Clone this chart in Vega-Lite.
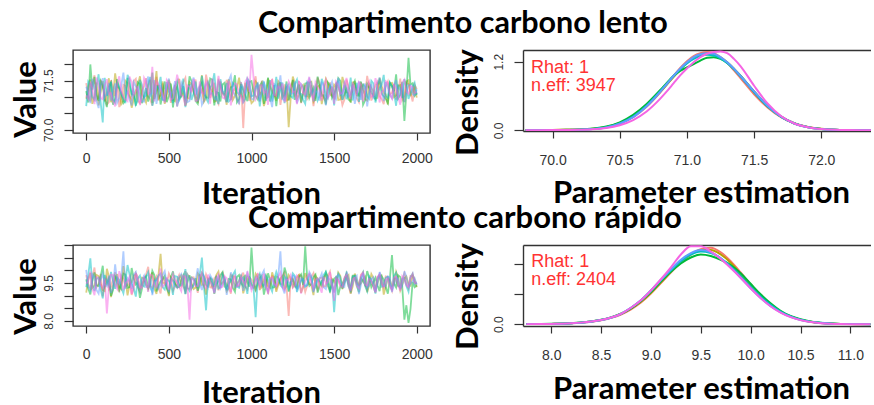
{
  "$schema": "https://vega.github.io/schema/vega-lite/v6.json",
  "padding": {"left": 9, "top": 7, "right": 0, "bottom": 0},
  "background": "white",
  "bounds": "flush",
  "columns": 2,
  "spacing": {"row": 112, "column": 93},
  "config": {
    "view": {"stroke": "#333", "strokeWidth": 1.4},
    "axis": {"grid": false, "labelFont": "Liberation Sans", "labelFontSize": 14, "labelColor": "#333", "tickColor": "#333", "tickWidth": 1.2, "tickSize": 7, "domainColor": "#333", "domainWidth": 1.4, "titleFont": "Lato", "titleFontWeight": "bold", "titleFontSize": 31, "titleColor": "#000", "labelOverlap": false},
    "axisY": {"labelAngle": -90, "labelAlign": "center", "labelBaseline": "bottom", "labelFontSize": 12, "tickSize": 9, "labelPadding": 9},
    "title": {"font": "Lato", "fontSize": 31, "fontWeight": "bold", "color": "#000", "anchor": "start", "frame": "group", "baseline": "alphabetic"}
  },
  "datasets": {
    "tl": [
      {"i":0,"a":71.42,"b":70.95,"c":71.18,"d":70.72,"e":71.31,"f":71.05},
      {"i":25,"a":70.86,"b":71.53,"c":71.99,"d":71.38,"e":70.81,"f":71.47},
      {"i":50,"a":71.66,"b":71.02,"c":71.61,"d":70.91,"e":71.24,"f":70.78},
      {"i":75,"a":70.98,"b":70.74,"c":70.88,"d":71.69,"e":70.66,"f":71.36},
      {"i":100,"a":71.29,"b":71.48,"c":71.35,"d":70.22,"e":71.57,"f":70.93},
      {"i":125,"a":70.77,"b":71.11,"c":70.69,"d":71.04,"e":71.08,"f":71.54},
      {"i":150,"a":71.51,"b":70.84,"c":71.44,"d":71.46,"e":70.89,"f":71.12},
      {"i":175,"a":71.03,"b":71.72,"c":70.96,"d":70.83,"e":71.41,"f":70.71},
      {"i":200,"a":70.69,"b":71.26,"c":71.27,"d":71.29,"e":70.97,"f":71.63},
      {"i":225,"a":71.37,"b":70.89,"c":70.81,"d":70.95,"e":71.74,"f":71.01},
      {"i":250,"a":71.12,"b":71.41,"c":71.58,"d":71.67,"e":71.16,"f":70.87},
      {"i":275,"a":70.92,"b":70.67,"c":71.09,"d":71.08,"e":70.74,"f":71.44},
      {"i":300,"a":71.55,"b":71.19,"c":70.73,"d":70.76,"e":71.32,"f":71.17},
      {"i":325,"a":70.81,"b":71.63,"c":71.39,"d":71.52,"e":71.05,"f":70.75},
      {"i":350,"a":71.33,"b":70.97,"c":71.01,"d":70.99,"e":70.85,"f":71.58},
      {"i":375,"a":71.01,"b":71.34,"c":70.86,"d":71.41,"e":71.62,"f":71.09},
      {"i":400,"a":70.74,"b":70.82,"c":71.74,"d":70.73,"e":71.13,"f":71.92},
      {"i":425,"a":71.61,"b":71.79,"c":71.14,"d":71.33,"e":70.79,"f":71.49},
      {"i":450,"a":71.08,"b":71.06,"c":70.77,"d":71.61,"e":71.37,"f":71.22},
      {"i":475,"a":70.88,"b":70.79,"c":71.47,"d":70.88,"e":70.92,"f":70.82},
      {"i":500,"a":71.46,"b":71.52,"c":71.03,"d":71.16,"e":71.56,"f":71.39},
      {"i":525,"a":71.19,"b":70.91,"c":70.68,"d":70.81,"e":71.18,"f":70.96},
      {"i":550,"a":70.71,"b":71.37,"c":71.31,"d":71.48,"e":70.71,"f":71.68},
      {"i":575,"a":71.27,"b":71.02,"c":71.05,"d":71.03,"e":71.44,"f":71.04},
      {"i":600,"a":71.58,"b":70.73,"c":70.92,"d":70.69,"e":71.02,"f":70.73},
      {"i":625,"a":70.95,"b":71.45,"c":71.63,"d":71.39,"e":70.88,"f":71.31},
      {"i":650,"a":71.36,"b":71.14,"c":71.18,"d":71.11,"e":71.59,"f":71.55},
      {"i":675,"a":70.83,"b":70.87,"c":70.79,"d":70.87,"e":71.23,"f":70.89},
      {"i":700,"a":71.22,"b":71.66,"c":71.43,"d":71.64,"e":70.76,"f":71.13},
      {"i":725,"a":71.68,"b":70.96,"c":70.99,"d":70.96,"e":71.36,"f":71.46},
      {"i":750,"a":70.97,"b":71.28,"c":71.56,"d":71.27,"e":71.09,"f":70.79},
      {"i":775,"a":71.43,"b":70.85,"c":70.74,"d":71.72,"e":70.95,"f":71.27},
      {"i":800,"a":70.79,"b":71.49,"c":71.12,"d":70.78,"e":71.47,"f":71.64},
      {"i":825,"a":71.14,"b":71.11,"c":71.38,"d":71.19,"e":71.14,"f":70.98},
      {"i":850,"a":71.52,"b":70.76,"c":70.85,"d":71.43,"e":70.83,"f":71.19},
      {"i":875,"a":70.91,"b":71.33,"c":71.29,"d":70.92,"e":71.65,"f":70.74},
      {"i":900,"a":71.25,"b":71.04,"c":71.66,"d":71.35,"e":71.06,"f":71.42},
      {"i":925,"a":70.82,"b":71.59,"c":70.94,"d":71.07,"e":70.78,"f":71.06},
      {"i":950,"a":70.05,"b":70.93,"c":71.21,"d":70.84,"e":71.29,"f":70.81},
      {"i":975,"a":71.49,"b":71.24,"c":70.87,"d":71.56,"e":71.52,"f":71.57},
      {"i":1000,"a":71.07,"b":70.81,"c":71.48,"d":71.02,"e":70.94,"f":72.28},
      {"i":1025,"a":71.63,"b":71.47,"c":71.03,"d":71.29,"e":71.21,"f":70.92},
      {"i":1050,"a":70.86,"b":71.08,"c":71.34,"d":70.71,"e":70.87,"f":71.35},
      {"i":1075,"a":71.31,"b":70.72,"c":70.79,"d":71.47,"e":71.43,"f":71.11},
      {"i":1100,"a":70.99,"b":71.56,"c":71.59,"d":71.13,"e":71.04,"f":70.76},
      {"i":1125,"a":71.55,"b":71.17,"c":71.11,"d":70.86,"e":70.69,"f":71.51},
      {"i":1150,"a":71.04,"b":70.88,"c":70.72,"d":71.61,"e":71.33,"f":71.03},
      {"i":1175,"a":70.76,"b":71.39,"c":71.45,"d":71.24,"e":71.66,"f":71.26},
      {"i":1200,"a":71.38,"b":71.01,"c":71.07,"d":70.81,"e":70.91,"f":70.84},
      {"i":1225,"a":70.93,"b":70.08,"c":70.89,"d":71.37,"e":71.26,"f":71.47},
      {"i":1250,"a":71.47,"b":71.62,"c":71.52,"d":70.97,"e":71.11,"f":71.15},
      {"i":1275,"a":71.17,"b":70.94,"c":71.16,"d":71.53,"e":70.81,"f":70.78},
      {"i":1300,"a":70.81,"b":71.29,"c":70.83,"d":71.09,"e":71.39,"f":71.38},
      {"i":1325,"a":71.36,"b":71.03,"c":71.41,"d":70.79,"e":70.99,"f":71.08},
      {"i":1350,"a":71.02,"b":71.44,"c":70.97,"d":71.42,"e":71.54,"f":71.61},
      {"i":1375,"a":70.72,"b":70.86,"c":71.28,"d":71.18,"e":70.86,"f":70.94},
      {"i":1400,"a":71.59,"b":71.31,"c":71.62,"d":70.89,"e":71.18,"f":71.29},
      {"i":1425,"a":71.11,"b":70.78,"c":71.04,"d":71.55,"e":71.43,"f":70.89},
      {"i":1450,"a":70.87,"b":71.55,"c":70.77,"d":71.04,"e":70.74,"f":71.52},
      {"i":1475,"a":71.44,"b":71.09,"c":71.35,"d":71.31,"e":71.31,"f":71.07},
      {"i":1500,"a":70.96,"b":71.37,"c":71.09,"d":70.74,"e":71.03,"f":70.79},
      {"i":1525,"a":71.28,"b":70.91,"c":71.57,"d":71.46,"e":71.58,"f":71.36},
      {"i":1550,"a":70.75,"b":71.61,"c":70.91,"d":71.13,"e":70.92,"f":71.12},
      {"i":1575,"a":71.53,"b":71.14,"c":71.23,"d":70.93,"e":71.29,"f":71.58},
      {"i":1600,"a":71.09,"b":70.83,"c":70.86,"d":71.59,"e":71.07,"f":70.93},
      {"i":1625,"a":71.41,"b":71.46,"c":71.49,"d":71.22,"e":70.79,"f":71.24},
      {"i":1650,"a":70.84,"b":71.03,"c":71.06,"d":70.85,"e":71.47,"f":71.45},
      {"i":1675,"a":71.21,"b":71.37,"c":70.76,"d":71.38,"e":71.15,"f":70.86},
      {"i":1700,"a":71.64,"b":70.89,"c":71.39,"d":71.01,"e":70.71,"f":71.32},
      {"i":1725,"a":70.89,"b":71.27,"c":71.14,"d":71.49,"e":71.38,"f":71.01},
      {"i":1750,"a":71.35,"b":70.95,"c":70.93,"d":70.83,"e":71.02,"f":71.57},
      {"i":1775,"a":71.02,"b":71.58,"c":71.51,"d":71.28,"e":71.59,"f":70.83},
      {"i":1800,"a":70.78,"b":71.12,"c":71.02,"d":71.67,"e":70.87,"f":71.19},
      {"i":1825,"a":71.47,"b":70.77,"c":70.81,"d":70.97,"e":71.27,"f":71.43},
      {"i":1850,"a":71.13,"b":71.43,"c":71.33,"d":71.32,"e":70.96,"f":70.95},
      {"i":1875,"a":70.92,"b":71.05,"c":71.69,"d":70.73,"e":71.51,"f":71.27},
      {"i":1900,"a":71.56,"b":71.36,"c":71.06,"d":71.19,"e":71.12,"f":70.76},
      {"i":1925,"a":71.04,"b":70.84,"c":70.27,"d":71.54,"e":70.84,"f":71.53},
      {"i":1950,"a":71.39,"b":71.51,"c":72.19,"d":70.94,"e":71.36,"f":71.09},
      {"i":1975,"a":70.86,"b":71.19,"c":71.42,"d":71.29,"e":71.08,"f":71.31},
      {"i":2000,"a":71.24,"b":70.98,"c":71.13,"d":71.06,"e":71.23,"f":71.14},
      {"i":12,"a":71.05,"b":71.28,"c":70.83,"d":71.47,"e":71.12,"f":70.94},
      {"i":37,"a":71.38,"b":70.79,"c":71.22,"d":71.01,"e":71.55,"f":71.26},
      {"i":62,"a":70.91,"b":71.44,"c":71.07,"d":71.33,"e":70.88,"f":71.59},
      {"i":87,"a":71.52,"b":71.13,"c":71.49,"d":70.85,"e":71.27,"f":70.97},
      {"i":112,"a":71.17,"b":70.86,"c":70.92,"d":71.58,"e":70.99,"f":71.36},
      {"i":137,"a":70.84,"b":71.57,"c":71.31,"d":71.19,"e":71.43,"f":71.08},
      {"i":162,"a":71.29,"b":71.02,"c":70.76,"d":70.94,"e":71.16,"f":70.87},
      {"i":187,"a":71.46,"b":71.31,"c":71.54,"d":71.42,"e":70.82,"f":71.41},
      {"i":212,"a":70.96,"b":70.78,"c":71.12,"d":71.09,"e":71.35,"f":71.18},
      {"i":237,"a":71.34,"b":71.49,"c":70.89,"d":70.81,"e":71.08,"f":70.92},
      {"i":262,"a":71.01,"b":71.11,"c":71.37,"d":71.53,"e":70.93,"f":71.62},
      {"i":287,"a":71.48,"b":70.92,"c":71.06,"d":71.21,"e":71.46,"f":71.05},
      {"i":312,"a":70.87,"b":71.36,"c":71.45,"d":70.88,"e":71.21,"f":71.33},
      {"i":337,"a":71.19,"b":71.09,"c":70.81,"d":71.36,"e":70.86,"f":70.99},
      {"i":362,"a":71.57,"b":70.83,"c":71.27,"d":71.04,"e":71.39,"f":71.45},
      {"i":387,"a":70.93,"b":71.52,"c":71.16,"d":71.61,"e":71.02,"f":71.13},
      {"i":412,"a":71.24,"b":71.18,"c":70.94,"d":70.97,"e":71.51,"f":70.86},
      {"i":437,"a":70.89,"b":70.96,"c":71.36,"d":71.27,"e":71.17,"f":71.38},
      {"i":462,"a":71.41,"b":71.47,"c":71.09,"d":70.92,"e":70.91,"f":71.07},
      {"i":487,"a":71.12,"b":71.04,"c":70.84,"d":71.45,"e":71.33,"f":71.51},
      {"i":512,"a":70.82,"b":71.32,"c":71.41,"d":71.07,"e":71.04,"f":70.91},
      {"i":537,"a":71.35,"b":70.87,"c":71.19,"d":71.34,"e":71.48,"f":71.24},
      {"i":562,"a":71.06,"b":71.55,"c":70.95,"d":70.89,"e":70.97,"f":71.43},
      {"i":587,"a":71.44,"b":71.12,"c":71.33,"d":71.56,"e":71.29,"f":71.02},
      {"i":612,"a":70.97,"b":70.93,"c":71.02,"d":71.13,"e":70.84,"f":71.35},
      {"i":637,"a":71.26,"b":71.38,"c":71.48,"d":70.91,"e":71.41,"f":71.14},
      {"i":662,"a":71.53,"b":71.01,"c":70.88,"d":71.47,"e":71.07,"f":70.88},
      {"i":687,"a":71.08,"b":71.29,"c":71.29,"d":71.05,"e":71.34,"f":71.47},
      {"i":712,"a":70.86,"b":70.85,"c":71.11,"d":71.31,"e":70.89,"f":71.09},
      {"i":737,"a":71.39,"b":71.43,"c":70.97,"d":70.84,"e":71.46,"f":71.31},
      {"i":762,"a":71.14,"b":71.16,"c":71.52,"d":71.38,"e":71.12,"f":71.56},
      {"i":787,"a":70.92,"b":70.89,"c":71.15,"d":71.02,"e":70.91,"f":71.03},
      {"i":812,"a":71.47,"b":71.35,"c":70.86,"d":71.54,"e":71.37,"f":71.34},
      {"i":837,"a":71.03,"b":71.08,"c":71.43,"d":71.09,"e":71.03,"f":70.95},
      {"i":862,"a":71.31,"b":71.54,"c":71.09,"d":70.86,"e":71.49,"f":71.48},
      {"i":887,"a":71.18,"b":70.91,"c":71.33,"d":71.42,"e":71.16,"f":71.11},
      {"i":912,"a":70.94,"b":71.27,"c":70.84,"d":71.15,"e":70.95,"f":71.38},
      {"i":937,"a":71.45,"b":71.05,"c":71.39,"d":71.33,"e":71.41,"f":71.04},
      {"i":962,"a":71.21,"b":71.43,"c":71.06,"d":70.93,"e":71.08,"f":71.46},
      {"i":987,"a":70.88,"b":71.11,"c":71.45,"d":71.48,"e":71.33,"f":71.15},
      {"i":1012,"a":71.36,"b":70.87,"c":71.17,"d":71.04,"e":70.92,"f":71.61},
      {"i":1037,"a":71.11,"b":71.39,"c":70.93,"d":71.39,"e":71.44,"f":71.02},
      {"i":1062,"a":71.49,"b":71.15,"c":71.44,"d":71.18,"e":71.15,"f":71.36},
      {"i":1087,"a":70.95,"b":70.94,"c":71.12,"d":70.88,"e":71.28,"f":71.19},
      {"i":1112,"a":71.27,"b":71.33,"c":70.86,"d":71.51,"e":70.97,"f":71.43},
      {"i":1137,"a":71.02,"b":71.06,"c":71.36,"d":71.13,"e":71.39,"f":71.07},
      {"i":1162,"a":71.42,"b":71.48,"c":71.21,"d":70.95,"e":71.18,"f":71.32},
      {"i":1187,"a":71.13,"b":71.17,"c":70.98,"d":71.44,"e":70.93,"f":71.41},
      {"i":1212,"a":70.89,"b":71.32,"c":71.47,"d":71.27,"e":71.36,"f":71.05},
      {"i":1237,"a":71.33,"b":70.96,"c":71.14,"d":71.02,"e":71.09,"f":71.35},
      {"i":1262,"a":71.06,"b":71.41,"c":70.91,"d":71.39,"e":71.47,"f":71.17},
      {"i":1287,"a":71.48,"b":71.07,"c":71.38,"d":71.12,"e":70.98,"f":71.46},
      {"i":1312,"a":71.15,"b":71.36,"c":71.09,"d":70.92,"e":71.31,"f":71.12},
      {"i":1337,"a":70.93,"b":71.02,"c":71.42,"d":71.46,"e":71.06,"f":71.39},
      {"i":1362,"a":71.37,"b":71.46,"c":71.13,"d":71.08,"e":71.42,"f":71.05},
      {"i":1387,"a":71.09,"b":70.99,"c":70.88,"d":71.33,"e":71.14,"f":71.44},
      {"i":1412,"a":71.43,"b":71.35,"c":71.31,"d":71.03,"e":70.89,"f":71.21},
      {"i":1437,"a":70.98,"b":71.09,"c":71.05,"d":71.37,"e":71.35,"f":71.37},
      {"i":1462,"a":71.26,"b":71.42,"c":71.44,"d":70.96,"e":71.19,"f":70.98},
      {"i":1487,"a":71.05,"b":71.03,"c":70.97,"d":71.29,"e":71.46,"f":71.31},
      {"i":1512,"a":71.39,"b":71.29,"c":71.26,"d":71.41,"e":70.94,"f":71.47},
      {"i":1537,"a":71.12,"b":70.92,"c":71.49,"d":71.06,"e":71.25,"f":71.09},
      {"i":1562,"a":70.91,"b":71.38,"c":71.08,"d":71.35,"e":71.44,"f":71.36},
      {"i":1587,"a":71.32,"b":71.11,"c":70.92,"d":71.14,"e":71.01,"f":71.17},
      {"i":1612,"a":71.18,"b":71.44,"c":71.34,"d":70.89,"e":71.37,"f":71.44},
      {"i":1637,"a":70.95,"b":71.05,"c":71.12,"d":71.43,"e":71.12,"f":71.06},
      {"i":1662,"a":71.44,"b":71.31,"c":71.47,"d":71.15,"e":70.91,"f":71.38},
      {"i":1687,"a":71.07,"b":70.93,"c":70.89,"d":71.32,"e":71.41,"f":71.13},
      {"i":1712,"a":71.29,"b":71.39,"c":71.28,"d":70.94,"e":71.16,"f":71.46},
      {"i":1737,"a":71.11,"b":71.16,"c":71.03,"d":71.41,"e":70.96,"f":71.04},
      {"i":1762,"a":71.46,"b":70.97,"c":71.37,"d":71.09,"e":71.38,"f":71.35},
      {"i":1787,"a":70.94,"b":71.34,"c":71.11,"d":71.36,"e":71.22,"f":71.15},
      {"i":1812,"a":71.31,"b":71.08,"c":70.94,"d":71.02,"e":71.45,"f":71.48},
      {"i":1837,"a":71.08,"b":71.41,"c":71.43,"d":71.44,"e":71.06,"f":71.08},
      {"i":1862,"a":71.39,"b":70.99,"c":71.17,"d":71.13,"e":71.34,"f":71.37},
      {"i":1887,"a":71.16,"b":71.33,"c":70.95,"d":71.38,"e":70.97,"f":71.02},
      {"i":1912,"a":70.91,"b":71.14,"c":71.46,"d":70.97,"e":71.41,"f":71.44},
      {"i":1937,"a":71.43,"b":71.47,"c":71.12,"d":71.31,"e":71.13,"f":71.16},
      {"i":1962,"a":71.14,"b":71.02,"c":71.38,"d":71.12,"e":71.36,"f":71.33},
      {"i":1987,"a":71.37,"b":71.29,"c":71.04,"d":71.43,"e":71.05,"f":71.12}
    ],
    "tr": [
      {"i":0,"a":9.81,"b":9.12,"c":9.64,"d":9.33,"e":10.02,"f":9.47},
      {"i":25,"a":9.28,"b":9.89,"c":9.05,"d":10.47,"e":9.21,"f":9.95},
      {"i":50,"a":10.11,"b":9.41,"c":9.92,"d":9.18,"e":9.73,"f":9.02},
      {"i":75,"a":9.46,"b":9.77,"c":9.38,"d":9.71,"e":9.08,"f":9.68},
      {"i":100,"a":8.97,"b":9.23,"c":10.18,"d":8.89,"e":9.86,"f":9.29},
      {"i":125,"a":9.73,"b":10.06,"c":9.51,"d":9.55,"e":9.37,"f":8.3},
      {"i":150,"a":9.35,"b":8.94,"c":8.99,"d":9.94,"e":9.11,"f":9.83},
      {"i":175,"a":9.92,"b":9.62,"c":9.76,"d":9.27,"e":10.24,"f":9.41},
      {"i":200,"a":9.14,"b":9.35,"c":9.22,"d":9.63,"e":9.47,"f":9.97},
      {"i":225,"a":9.66,"b":10.17,"c":9.87,"d":9.09,"e":10.75,"f":9.22},
      {"i":250,"a":9.41,"b":9.01,"c":9.31,"d":10.21,"e":9.69,"f":9.58},
      {"i":275,"a":9.03,"b":9.54,"c":10.09,"d":9.48,"e":9.26,"f":9.07},
      {"i":300,"a":9.88,"b":9.84,"c":9.44,"d":8.96,"e":9.93,"f":9.88},
      {"i":325,"a":9.22,"b":9.16,"c":8.91,"d":9.79,"e":9.18,"f":9.34},
      {"i":350,"a":9.59,"b":9.68,"c":9.69,"d":9.36,"e":9.79,"f":9.71},
      {"i":375,"a":10.14,"b":9.29,"c":9.26,"d":9.92,"e":9.35,"f":9.15},
      {"i":400,"a":9.31,"b":9.92,"c":9.98,"d":9.15,"e":9.02,"f":9.79},
      {"i":425,"a":9.76,"b":9.07,"c":9.17,"d":9.61,"e":9.64,"f":9.33},
      {"i":450,"a":9.09,"b":10.65,"c":9.57,"d":9.87,"e":9.42,"f":10.07},
      {"i":475,"a":9.54,"b":9.48,"c":9.78,"d":9.24,"e":9.97,"f":9.44},
      {"i":500,"a":9.87,"b":8.98,"c":9.12,"d":9.58,"e":9.14,"f":9.23},
      {"i":525,"a":9.19,"b":9.61,"c":9.96,"d":9.03,"e":9.58,"f":9.86},
      {"i":550,"a":9.62,"b":9.33,"c":9.34,"d":9.75,"e":9.31,"f":9.52},
      {"i":575,"a":9.38,"b":9.79,"c":9.61,"d":9.42,"e":9.85,"f":9.18},
      {"i":600,"a":9.97,"b":9.19,"c":9.06,"d":10.05,"e":9.07,"f":9.74},
      {"i":625,"a":9.27,"b":9.71,"c":9.81,"d":9.19,"e":9.66,"f":8.05},
      {"i":650,"a":9.72,"b":9.26,"c":9.44,"d":9.64,"e":9.39,"f":9.63},
      {"i":675,"a":9.11,"b":9.88,"c":9.19,"d":9.33,"e":10.08,"f":9.37},
      {"i":700,"a":9.58,"b":9.42,"c":9.89,"d":10.5,"e":9.22,"f":9.91},
      {"i":725,"a":9.84,"b":9.04,"c":9.42,"d":8.42,"e":9.56,"f":9.26},
      {"i":750,"a":9.33,"b":9.67,"c":9.71,"d":9.68,"e":9.81,"f":9.55},
      {"i":775,"a":9.69,"b":9.37,"c":9.07,"d":9.44,"e":9.12,"f":9.09},
      {"i":800,"a":9.21,"b":9.95,"c":9.58,"d":9.28,"e":9.74,"f":9.82},
      {"i":825,"a":9.94,"b":9.51,"c":9.93,"d":9.84,"e":9.45,"f":9.35},
      {"i":850,"a":9.43,"b":9.17,"c":9.27,"d":9.21,"e":9.03,"f":9.69},
      {"i":875,"a":9.08,"b":9.82,"c":9.64,"d":9.58,"e":9.92,"f":9.14},
      {"i":900,"a":9.74,"b":9.31,"c":9.15,"d":9.97,"e":9.33,"f":9.77},
      {"i":925,"a":9.36,"b":9.58,"c":9.82,"d":9.31,"e":9.61,"f":9.42},
      {"i":950,"a":9.91,"b":9.09,"c":9.37,"d":9.72,"e":9.19,"f":9.58},
      {"i":975,"a":9.25,"b":9.74,"c":9.55,"d":9.07,"e":9.88,"f":9.96},
      {"i":1000,"a":9.64,"b":9.43,"c":10.9,"d":9.49,"e":9.28,"f":9.21},
      {"i":1025,"a":9.17,"b":9.86,"c":9.23,"d":8.15,"e":9.72,"f":9.65},
      {"i":1050,"a":9.83,"b":9.22,"c":9.69,"d":9.86,"e":9.41,"f":9.33},
      {"i":1075,"a":9.42,"b":9.63,"c":9.04,"d":9.37,"e":9.99,"f":9.87},
      {"i":1100,"a":9.06,"b":9.38,"c":9.88,"d":9.62,"e":9.15,"f":9.15},
      {"i":1125,"a":9.77,"b":9.92,"c":9.31,"d":9.16,"e":9.67,"f":9.73},
      {"i":1150,"a":9.29,"b":9.15,"c":9.76,"d":9.94,"e":9.36,"f":9.39},
      {"i":1175,"a":9.61,"b":9.69,"c":9.47,"d":9.41,"e":10.75,"f":9.91},
      {"i":1200,"a":9.92,"b":9.28,"c":10.11,"d":9.75,"e":9.09,"f":9.22},
      {"i":1225,"a":8.2,"b":9.81,"c":9.16,"d":9.27,"e":9.53,"f":9.64},
      {"i":1250,"a":9.68,"b":9.34,"c":9.64,"d":9.88,"e":9.79,"f":9.31},
      {"i":1275,"a":9.35,"b":9.73,"c":9.29,"d":9.14,"e":9.24,"f":9.79},
      {"i":1300,"a":9.79,"b":9.11,"c":9.84,"d":9.59,"e":9.68,"f":9.08},
      {"i":1325,"a":9.14,"b":9.89,"c":10.95,"d":9.35,"e":9.37,"f":9.54},
      {"i":1350,"a":9.57,"b":9.47,"c":9.38,"d":9.82,"e":9.93,"f":9.86},
      {"i":1375,"a":9.89,"b":9.02,"c":9.73,"d":9.21,"e":9.14,"f":9.27},
      {"i":1400,"a":9.23,"b":9.65,"c":9.12,"d":9.67,"e":9.57,"f":9.68},
      {"i":1425,"a":9.71,"b":9.36,"c":9.58,"d":9.43,"e":9.87,"f":9.12},
      {"i":1450,"a":9.38,"b":9.84,"c":9.93,"d":9.94,"e":9.26,"f":9.47},
      {"i":1475,"a":9.95,"b":9.19,"c":9.21,"d":9.13,"e":9.63,"f":9.93},
      {"i":1500,"a":9.16,"b":9.58,"c":9.67,"d":8.35,"e":9.11,"f":8.79},
      {"i":1525,"a":9.63,"b":9.91,"c":9.02,"d":9.86,"e":9.82,"f":9.62},
      {"i":1550,"a":9.31,"b":9.26,"c":9.47,"d":9.28,"e":9.41,"f":9.35},
      {"i":1575,"a":9.85,"b":9.72,"c":9.88,"d":9.69,"e":9.95,"f":9.81},
      {"i":1600,"a":9.09,"b":9.08,"c":9.26,"d":9.19,"e":9.23,"f":9.18},
      {"i":1625,"a":9.66,"b":9.87,"c":9.79,"d":9.78,"e":9.71,"f":9.71},
      {"i":1650,"a":9.42,"b":9.41,"c":9.13,"d":9.36,"e":9.06,"f":9.29},
      {"i":1675,"a":9.93,"b":9.63,"c":9.58,"d":9.91,"e":9.88,"f":9.89},
      {"i":1700,"a":9.24,"b":9.13,"c":9.97,"d":9.17,"e":9.32,"f":9.41},
      {"i":1725,"a":9.57,"b":9.85,"c":9.34,"d":9.63,"e":9.65,"f":9.58},
      {"i":1750,"a":9.12,"b":9.28,"c":9.71,"d":9.08,"e":9.17,"f":9.13},
      {"i":1775,"a":9.81,"b":9.76,"c":9.18,"d":9.84,"e":9.93,"f":9.84},
      {"i":1800,"a":9.35,"b":9.04,"c":9.63,"d":9.39,"e":9.38,"f":9.32},
      {"i":1825,"a":9.74,"b":9.69,"c":9.08,"d":9.74,"e":9.76,"f":9.69},
      {"i":1850,"a":9.19,"b":9.38,"c":10.6,"d":9.22,"e":9.14,"f":9.23},
      {"i":1875,"a":9.66,"b":9.94,"c":9.32,"d":9.91,"e":9.71,"f":9.75},
      {"i":1900,"a":9.41,"b":9.21,"c":9.74,"d":9.31,"e":9.29,"f":9.18},
      {"i":1925,"a":9.88,"b":9.67,"c":8.05,"d":9.69,"e":9.96,"f":9.63},
      {"i":1950,"a":9.28,"b":9.45,"c":7.92,"d":9.16,"e":9.36,"f":9.34},
      {"i":1975,"a":9.79,"b":9.82,"c":9.54,"d":9.87,"e":9.58,"f":9.86},
      {"i":2000,"a":9.47,"b":9.33,"c":9.41,"d":9.52,"e":9.43,"f":9.53},
      {"i":12,"a":9.45,"b":9.63,"c":9.28,"d":9.79,"e":9.36,"f":9.58},
      {"i":37,"a":9.71,"b":9.31,"c":9.57,"d":9.42,"e":9.84,"f":9.29},
      {"i":62,"a":9.33,"b":9.82,"c":9.41,"d":9.66,"e":9.22,"f":9.74},
      {"i":87,"a":9.86,"b":9.47,"c":9.73,"d":9.25,"e":9.61,"f":9.43},
      {"i":112,"a":9.52,"b":9.18,"c":9.36,"d":9.81,"e":9.45,"f":9.67},
      {"i":137,"a":9.24,"b":9.76,"c":9.68,"d":9.38,"e":9.79,"f":9.35},
      {"i":162,"a":9.67,"b":9.39,"c":9.21,"d":9.59,"e":9.31,"f":9.81},
      {"i":187,"a":9.41,"b":9.85,"c":9.62,"d":9.72,"e":9.56,"f":9.27},
      {"i":212,"a":9.79,"b":9.26,"c":9.47,"d":9.31,"e":9.69,"f":9.62},
      {"i":237,"a":9.36,"b":9.64,"c":9.83,"d":9.55,"e":9.27,"f":9.48},
      {"i":262,"a":9.62,"b":9.43,"c":9.34,"d":9.84,"e":9.58,"f":9.76},
      {"i":287,"a":9.29,"b":9.78,"c":9.69,"d":9.29,"e":9.82,"f":9.39},
      {"i":312,"a":9.74,"b":9.35,"c":9.52,"d":9.67,"e":9.41,"f":9.65},
      {"i":337,"a":9.48,"b":9.71,"c":9.26,"d":9.42,"e":9.63,"f":9.31},
      {"i":362,"a":9.83,"b":9.42,"c":9.77,"d":9.73,"e":9.34,"f":9.57},
      {"i":387,"a":9.37,"b":9.66,"c":9.45,"d":9.33,"e":9.72,"f":9.84},
      {"i":412,"a":9.61,"b":9.28,"c":9.81,"d":9.58,"e":9.49,"f":9.42},
      {"i":437,"a":9.32,"b":9.81,"c":9.38,"d":9.79,"e":9.28,"f":9.69},
      {"i":462,"a":9.77,"b":9.51,"c":9.64,"d":9.34,"e":9.81,"f":9.36},
      {"i":487,"a":9.44,"b":9.34,"c":9.29,"d":9.65,"e":9.43,"f":9.73},
      {"i":512,"a":9.69,"b":9.73,"c":9.72,"d":9.46,"e":9.66,"f":9.48},
      {"i":537,"a":9.35,"b":9.45,"c":9.48,"d":9.77,"e":9.38,"f":9.61},
      {"i":562,"a":9.81,"b":9.69,"c":9.33,"d":9.36,"e":9.74,"f":9.34},
      {"i":587,"a":9.51,"b":9.38,"c":9.79,"d":9.61,"e":9.45,"f":9.79},
      {"i":612,"a":9.28,"b":9.84,"c":9.51,"d":9.32,"e":9.83,"f":9.45},
      {"i":637,"a":9.73,"b":9.49,"c":9.28,"d":9.71,"e":9.31,"f":9.67},
      {"i":662,"a":9.46,"b":9.32,"c":9.69,"d":9.45,"e":9.62,"f":9.38},
      {"i":687,"a":9.84,"b":9.76,"c":9.42,"d":9.83,"e":9.47,"f":9.72},
      {"i":712,"a":9.39,"b":9.44,"c":9.75,"d":9.39,"e":9.78,"f":9.49},
      {"i":737,"a":9.62,"b":9.68,"c":9.36,"d":9.64,"e":9.34,"f":9.83},
      {"i":762,"a":9.31,"b":9.36,"c":9.63,"d":9.41,"e":9.66,"f":9.41},
      {"i":787,"a":9.76,"b":9.81,"c":9.44,"d":9.78,"e":9.52,"f":9.64},
      {"i":812,"a":9.49,"b":9.43,"c":9.81,"d":9.33,"e":9.29,"f":9.32},
      {"i":837,"a":9.65,"b":9.62,"c":9.37,"d":9.68,"e":9.73,"f":9.77},
      {"i":862,"a":9.34,"b":9.29,"c":9.66,"d":9.47,"e":9.41,"f":9.48},
      {"i":887,"a":9.79,"b":9.74,"c":9.31,"d":9.81,"e":9.64,"f":9.59},
      {"i":912,"a":9.42,"b":9.48,"c":9.74,"d":9.36,"e":9.37,"f":9.37},
      {"i":937,"a":9.68,"b":9.83,"c":9.49,"d":9.62,"e":9.79,"f":9.71},
      {"i":962,"a":9.38,"b":9.39,"c":9.82,"d":9.45,"e":9.46,"f":9.44},
      {"i":987,"a":9.72,"b":9.61,"c":9.35,"d":9.76,"e":9.67,"f":9.66},
      {"i":1012,"a":9.47,"b":9.33,"c":9.67,"d":9.31,"e":9.35,"f":9.39},
      {"i":1037,"a":9.85,"b":9.72,"c":9.46,"d":9.65,"e":9.59,"f":9.82},
      {"i":1062,"a":9.33,"b":9.45,"c":9.78,"d":9.48,"e":9.82,"f":9.51},
      {"i":1087,"a":9.66,"b":9.79,"c":9.39,"d":9.79,"e":9.36,"f":9.34},
      {"i":1112,"a":9.41,"b":9.31,"c":9.62,"d":9.36,"e":9.61,"f":9.68},
      {"i":1137,"a":9.73,"b":9.65,"c":9.33,"d":9.64,"e":9.43,"f":9.47},
      {"i":1162,"a":9.46,"b":9.42,"c":9.71,"d":9.71,"e":9.76,"f":9.75},
      {"i":1187,"a":9.78,"b":9.77,"c":9.44,"d":9.33,"e":9.32,"f":9.36},
      {"i":1212,"a":9.35,"b":9.38,"c":9.84,"d":9.62,"e":9.68,"f":9.63},
      {"i":1237,"a":9.64,"b":9.69,"c":9.51,"d":9.44,"e":9.45,"f":9.81},
      {"i":1262,"a":9.43,"b":9.47,"c":9.36,"d":9.78,"e":9.74,"f":9.42},
      {"i":1287,"a":9.81,"b":9.82,"c":9.73,"d":9.37,"e":9.38,"f":9.69},
      {"i":1312,"a":9.52,"b":9.35,"c":9.42,"d":9.65,"e":9.63,"f":9.38},
      {"i":1337,"a":9.39,"b":9.64,"c":9.68,"d":9.43,"e":9.41,"f":9.76},
      {"i":1362,"a":9.74,"b":9.41,"c":9.47,"d":9.71,"e":9.78,"f":9.46},
      {"i":1387,"a":9.44,"b":9.79,"c":9.83,"d":9.34,"e":9.49,"f":9.63},
      {"i":1412,"a":9.69,"b":9.52,"c":9.38,"d":9.59,"e":9.66,"f":9.35},
      {"i":1437,"a":9.36,"b":9.73,"c":9.61,"d":9.82,"e":9.33,"f":9.74},
      {"i":1462,"a":9.77,"b":9.38,"c":9.76,"d":9.48,"e":9.72,"f":9.52},
      {"i":1487,"a":9.48,"b":9.66,"c":9.41,"d":9.66,"e":9.44,"f":9.41},
      {"i":1512,"a":9.71,"b":9.44,"c":9.72,"d":9.39,"e":9.76,"f":9.69},
      {"i":1537,"a":9.42,"b":9.78,"c":9.35,"d":9.73,"e":9.51,"f":9.36},
      {"i":1562,"a":9.66,"b":9.49,"c":9.64,"d":9.52,"e":9.35,"f":9.72},
      {"i":1587,"a":9.37,"b":9.81,"c":9.47,"d":9.37,"e":9.69,"f":9.47},
      {"i":1612,"a":9.74,"b":9.36,"c":9.79,"d":9.74,"e":9.47,"f":9.65},
      {"i":1637,"a":9.51,"b":9.63,"c":9.38,"d":9.46,"e":9.79,"f":9.38},
      {"i":1662,"a":9.82,"b":9.48,"c":9.69,"d":9.69,"e":9.42,"f":9.79},
      {"i":1687,"a":9.41,"b":9.74,"c":9.44,"d":9.38,"e":9.64,"f":9.44},
      {"i":1712,"a":9.67,"b":9.41,"c":9.71,"d":9.76,"e":9.39,"f":9.66},
      {"i":1737,"a":9.34,"b":9.69,"c":9.52,"d":9.44,"e":9.73,"f":9.39},
      {"i":1762,"a":9.73,"b":9.47,"c":9.41,"d":9.66,"e":9.45,"f":9.74},
      {"i":1787,"a":9.48,"b":9.79,"c":9.77,"d":9.35,"e":9.68,"f":9.45},
      {"i":1812,"a":9.76,"b":9.35,"c":9.34,"d":9.71,"e":9.37,"f":9.63},
      {"i":1837,"a":9.42,"b":9.62,"c":9.66,"d":9.49,"e":9.71,"f":9.37},
      {"i":1862,"a":9.69,"b":9.44,"c":9.48,"d":9.78,"e":9.42,"f":9.71},
      {"i":1887,"a":9.37,"b":9.72,"c":9.81,"d":9.41,"e":9.66,"f":9.44},
      {"i":1912,"a":9.64,"b":9.43,"c":9.36,"d":9.67,"e":9.38,"f":9.76},
      {"i":1937,"a":9.45,"b":9.76,"c":8.62,"d":9.38,"e":9.74,"f":9.41},
      {"i":1962,"a":9.78,"b":9.39,"c":8.48,"d":9.72,"e":9.47,"f":9.68},
      {"i":1987,"a":9.51,"b":9.64,"c":9.33,"d":9.46,"e":9.69,"f":9.49}
    ],
    "dl": [
      {"x":69.8,"a":0.003,"b":0.005,"c":0.004,"d":0.003,"e":0.002,"f":0.002},
      {"x":69.9,"a":0.004,"b":0.006,"c":0.005,"d":0.004,"e":0.003,"f":0.003},
      {"x":70.0,"a":0.006,"b":0.007,"c":0.006,"d":0.005,"e":0.004,"f":0.004},
      {"x":70.1,"a":0.008,"b":0.009,"c":0.008,"d":0.007,"e":0.006,"f":0.005},
      {"x":70.2,"a":0.012,"b":0.013,"c":0.014,"d":0.011,"e":0.01,"f":0.008},
      {"x":70.3,"a":0.025,"b":0.026,"c":0.03,"d":0.024,"e":0.022,"f":0.017},
      {"x":70.4,"a":0.055,"b":0.057,"c":0.065,"d":0.054,"e":0.05,"f":0.04},
      {"x":70.5,"a":0.12,"b":0.13,"c":0.14,"d":0.12,"e":0.115,"f":0.09},
      {"x":70.6,"a":0.23,"b":0.25,"c":0.27,"d":0.24,"e":0.23,"f":0.18},
      {"x":70.7,"a":0.41,"b":0.43,"c":0.46,"d":0.43,"e":0.42,"f":0.33},
      {"x":70.8,"a":0.66,"b":0.67,"c":0.70,"d":0.68,"e":0.67,"f":0.55},
      {"x":70.85,"a":0.80,"b":0.80,"c":0.83,"d":0.81,"e":0.81,"f":0.68},
      {"x":70.9,"a":0.95,"b":0.93,"c":0.95,"d":0.95,"e":0.95,"f":0.82},
      {"x":70.95,"a":1.09,"b":1.06,"c":1.04,"d":1.07,"e":1.08,"f":0.96},
      {"x":71.0,"a":1.21,"b":1.18,"c":1.10,"d":1.17,"e":1.19,"f":1.08},
      {"x":71.05,"a":1.30,"b":1.27,"c":1.16,"d":1.25,"e":1.28,"f":1.19},
      {"x":71.1,"a":1.35,"b":1.32,"c":1.22,"d":1.30,"e":1.33,"f":1.28},
      {"x":71.15,"a":1.37,"b":1.34,"c":1.27,"d":1.32,"e":1.35,"f":1.34},
      {"x":71.2,"a":1.35,"b":1.32,"c":1.28,"d":1.31,"e":1.34,"f":1.37},
      {"x":71.25,"a":1.28,"b":1.27,"c":1.25,"d":1.26,"e":1.28,"f":1.38},
      {"x":71.3,"a":1.18,"b":1.19,"c":1.18,"d":1.18,"e":1.19,"f":1.35},
      {"x":71.35,"a":1.05,"b":1.08,"c":1.07,"d":1.07,"e":1.08,"f":1.25},
      {"x":71.4,"a":0.91,"b":0.95,"c":0.95,"d":0.94,"e":0.95,"f":1.12},
      {"x":71.5,"a":0.63,"b":0.68,"c":0.67,"d":0.67,"e":0.68,"f":0.78},
      {"x":71.6,"a":0.40,"b":0.43,"c":0.42,"d":0.42,"e":0.43,"f":0.47},
      {"x":71.7,"a":0.23,"b":0.24,"c":0.24,"d":0.24,"e":0.24,"f":0.25},
      {"x":71.8,"a":0.12,"b":0.125,"c":0.12,"d":0.12,"e":0.12,"f":0.12},
      {"x":71.9,"a":0.06,"b":0.06,"c":0.055,"d":0.056,"e":0.055,"f":0.055},
      {"x":72.0,"a":0.025,"b":0.028,"c":0.024,"d":0.024,"e":0.023,"f":0.023},
      {"x":72.1,"a":0.01,"b":0.012,"c":0.01,"d":0.01,"e":0.009,"f":0.009},
      {"x":72.2,"a":0.005,"b":0.006,"c":0.005,"d":0.005,"e":0.004,"f":0.004},
      {"x":72.3,"a":0.003,"b":0.004,"c":0.003,"d":0.003,"e":0.002,"f":0.002},
      {"x":72.4,"a":0.002,"b":0.003,"c":0.002,"d":0.002,"e":0.001,"f":0.001}
    ],
    "dr": [
      {"x":7.75,"a":0.002,"b":0.002,"c":0.003,"d":0.002,"e":0.002,"f":0.002},
      {"x":7.9,"a":0.003,"b":0.003,"c":0.004,"d":0.003,"e":0.003,"f":0.003},
      {"x":8.0,"a":0.005,"b":0.005,"c":0.006,"d":0.005,"e":0.004,"f":0.005},
      {"x":8.1,"a":0.008,"b":0.008,"c":0.009,"d":0.008,"e":0.007,"f":0.008},
      {"x":8.2,"a":0.013,"b":0.013,"c":0.014,"d":0.013,"e":0.012,"f":0.013},
      {"x":8.3,"a":0.022,"b":0.022,"c":0.023,"d":0.022,"e":0.021,"f":0.022},
      {"x":8.4,"a":0.035,"b":0.036,"c":0.038,"d":0.037,"e":0.035,"f":0.036},
      {"x":8.5,"a":0.055,"b":0.058,"c":0.06,"d":0.058,"e":0.056,"f":0.058},
      {"x":8.6,"a":0.085,"b":0.09,"c":0.092,"d":0.09,"e":0.088,"f":0.09},
      {"x":8.7,"a":0.13,"b":0.14,"c":0.14,"d":0.14,"e":0.14,"f":0.14},
      {"x":8.8,"a":0.20,"b":0.21,"c":0.21,"d":0.22,"e":0.22,"f":0.22},
      {"x":8.9,"a":0.29,"b":0.30,"c":0.31,"d":0.32,"e":0.32,"f":0.32},
      {"x":9.0,"a":0.41,"b":0.42,"c":0.43,"d":0.45,"e":0.45,"f":0.45},
      {"x":9.1,"a":0.55,"b":0.56,"c":0.57,"d":0.59,"e":0.59,"f":0.60},
      {"x":9.2,"a":0.69,"b":0.70,"c":0.70,"d":0.72,"e":0.73,"f":0.76},
      {"x":9.3,"a":0.82,"b":0.83,"c":0.81,"d":0.84,"e":0.86,"f":0.93},
      {"x":9.4,"a":0.93,"b":0.93,"c":0.89,"d":0.93,"e":0.95,"f":1.04},
      {"x":9.5,"a":1.00,"b":0.99,"c":0.93,"d":0.97,"e":0.99,"f":1.04},
      {"x":9.6,"a":1.02,"b":0.99,"c":0.91,"d":0.95,"e":0.96,"f":0.97},
      {"x":9.7,"a":0.96,"b":0.93,"c":0.86,"d":0.88,"e":0.88,"f":0.87},
      {"x":9.8,"a":0.84,"b":0.82,"c":0.79,"d":0.77,"e":0.76,"f":0.75},
      {"x":9.9,"a":0.69,"b":0.67,"c":0.68,"d":0.64,"e":0.62,"f":0.62},
      {"x":10.0,"a":0.53,"b":0.52,"c":0.54,"d":0.50,"e":0.48,"f":0.48},
      {"x":10.1,"a":0.38,"b":0.38,"c":0.40,"d":0.37,"e":0.35,"f":0.35},
      {"x":10.2,"a":0.26,"b":0.26,"c":0.28,"d":0.26,"e":0.24,"f":0.24},
      {"x":10.3,"a":0.17,"b":0.17,"c":0.18,"d":0.17,"e":0.16,"f":0.155},
      {"x":10.4,"a":0.105,"b":0.105,"c":0.11,"d":0.105,"e":0.10,"f":0.095},
      {"x":10.5,"a":0.062,"b":0.06,"c":0.066,"d":0.062,"e":0.058,"f":0.055},
      {"x":10.6,"a":0.035,"b":0.034,"c":0.038,"d":0.035,"e":0.032,"f":0.03},
      {"x":10.7,"a":0.018,"b":0.018,"c":0.02,"d":0.019,"e":0.017,"f":0.015},
      {"x":10.8,"a":0.009,"b":0.009,"c":0.01,"d":0.01,"e":0.008,"f":0.007},
      {"x":10.9,"a":0.004,"b":0.004,"c":0.005,"d":0.005,"e":0.004,"f":0.003},
      {"x":11.0,"a":0.002,"b":0.002,"c":0.003,"d":0.003,"e":0.002,"f":0.001},
      {"x":11.1,"a":0.001,"b":0.001,"c":0.002,"d":0.002,"e":0.001,"f":0.0},
      {"x":11.2,"a":0.0,"b":0.0,"c":0.001,"d":0.001,"e":0.0,"f":0.0}
    ]
  },
  "concat": [
    {
      "title": {"text": "Compartimento carbono lento", "offset": 11, "dx": 185, "fontSize": 30.5},
      "width": 357, "height": 83,
      "data": {"name": "tl"},
      "transform": [{"fold": ["a","b","c","d","e","f"], "as": ["chain","value"]}],
      "mark": {"type": "line", "strokeWidth": 1.8, "opacity": 0.5, "clip": true},
      "encoding": {
        "x": {"field": "i", "type": "quantitative", "scale": {"domain": [-80, 2080], "nice": false, "zero": false}, "axis": {"values": [0,500,1000,1500,2000], "format": "d", "title": "Iteration", "titleX": 188, "domain": false, "labelPadding": 11, "titlePadding": 14}},
        "y": {"field": "value", "type": "quantitative", "scale": {"domain": [69.9, 72.43], "nice": false, "zero": false}, "axis": {"values": [70,70.5,71,71.5,72], "labelExpr": "datum.value == 70 || datum.value == 71.5 ? format(datum.value, '.1f') : ''", "title": "Value", "titleY": 49, "domain": false, "titlePadding": 0}},
        "color": {"field": "chain", "type": "nominal", "scale": {"domain": ["a","b","c","d","e","f"], "range": ["#F8766D","#B79F00","#00BA38","#00BFC4","#619CFF","#F564E3"]}, "legend": null}
      }
    },
    {
      "width": 348, "height": 81,
      "view": {"stroke": null},
      "resolve": {"axis": {"x": "independent"}},
      "layer": [
        {
          "data": {"name": "dl"},
          "transform": [{"fold": ["a","b","c","d","e","f"], "as": ["chain","value"]}],
          "mark": {"type": "line", "strokeWidth": 2, "interpolate": "monotone", "clip": true},
          "encoding": {
            "x": {"field": "x", "type": "quantitative", "scale": {"domain": [69.78, 72.37], "nice": false, "zero": false}, "axis": {"values": [70,70.5,71,71.5,72], "format": ".1f", "title": "Parameter estimation", "titleX": 178, "labelPadding": 15, "titlePadding": 11}},
            "y": {"field": "value", "type": "quantitative", "scale": {"domain": [-0.012, 1.405], "nice": false, "zero": false}, "axis": {"values": [0,0.2,0.4,0.6,0.8,1,1.2], "labelExpr": "datum.value == 0 || datum.value == 0.6 || datum.value == 1.2 ? format(datum.value, '.1f') : ''", "title": "Density", "titleY": 52, "titlePadding": 8}},
            "color": {"field": "chain", "type": "nominal", "scale": {"domain": ["a","b","c","d","e","f"], "range": ["#F8766D","#B79F00","#00BA38","#00BFC4","#619CFF","#F564E3"]}, "legend": null}
          }
        },
        {
          "data": {"values": [{"t": "Rhat: 1", "px": 69.84, "py": 1.089}, {"t": "n.eff: 3947", "px": 69.84, "py": 0.783}]},
          "mark": {"type": "text", "align": "left", "baseline": "middle", "font": "Liberation Sans", "fontSize": 18, "color": "#FF3333"},
          "encoding": {
            "x": {"field": "px", "type": "quantitative", "scale": {"domain": [69.78, 72.37], "nice": false, "zero": false}, "axis": {"orient": "top", "labels": false, "ticks": false, "title": null, "domain": true}},
            "y": {"field": "py", "type": "quantitative"},
            "text": {"field": "t"}
          }
        }
      ]
    },
    {
      "title": {"text": "Compartimento carbono rápido", "offset": 9, "dx": 175},
      "width": 357, "height": 81,
      "data": {"name": "tr"},
      "transform": [{"fold": ["a","b","c","d","e","f"], "as": ["chain","value"]}],
      "mark": {"type": "line", "strokeWidth": 1.8, "opacity": 0.5, "clip": true},
      "encoding": {
        "x": {"field": "i", "type": "quantitative", "scale": {"domain": [-80, 2080], "nice": false, "zero": false}, "axis": {"values": [0,500,1000,1500,2000], "format": "d", "title": "Iteration", "titleX": 188, "domain": false, "labelPadding": 14, "titlePadding": 17}},
        "y": {"field": "value", "type": "quantitative", "scale": {"domain": [7.8, 11.0], "nice": false, "zero": false}, "axis": {"values": [8,8.5,9,9.5,10,10.5,11], "labelExpr": "datum.value == 8 || datum.value == 9.5 ? format(datum.value, '.1f') : ''", "title": "Value", "titleY": 51, "domain": false, "titlePadding": 0}},
        "color": {"field": "chain", "type": "nominal", "scale": {"domain": ["a","b","c","d","e","f"], "range": ["#F8766D","#B79F00","#00BA38","#00BFC4","#619CFF","#F564E3"]}, "legend": null}
      }
    },
    {
      "width": 348, "height": 81,
      "view": {"stroke": null},
      "resolve": {"axis": {"x": "independent"}},
      "layer": [
        {
          "data": {"name": "dr"},
          "transform": [{"fold": ["a","b","c","d","e","f"], "as": ["chain","value"]}],
          "mark": {"type": "line", "strokeWidth": 2, "interpolate": "monotone", "clip": true},
          "encoding": {
            "x": {"field": "x", "type": "quantitative", "scale": {"domain": [7.717, 11.207], "nice": false, "zero": false}, "axis": {"values": [8,8.5,9,9.5,10,10.5,11], "format": ".1f", "title": "Parameter estimation", "titleX": 178, "labelPadding": 15, "titlePadding": 12}},
            "y": {"field": "value", "type": "quantitative", "scale": {"domain": [-0.023, 1.057], "nice": false, "zero": false}, "axis": {"values": [0,0.2,0.4,0.6,0.8,1], "labelExpr": "datum.value == 0 || datum.value == 0.6 ? format(datum.value, '.1f') : ''", "title": "Density", "titleY": 51, "titlePadding": 8}},
            "color": {"field": "chain", "type": "nominal", "scale": {"domain": ["a","b","c","d","e","f"], "range": ["#F8766D","#B79F00","#00BA38","#00BFC4","#619CFF","#F564E3"]}, "legend": null}
          }
        },
        {
          "data": {"values": [{"t": "Rhat: 1", "px": 7.8, "py": 0.831}, {"t": "n.eff: 2404", "px": 7.8, "py": 0.593}]},
          "mark": {"type": "text", "align": "left", "baseline": "middle", "font": "Liberation Sans", "fontSize": 18, "color": "#FF3333"},
          "encoding": {
            "x": {"field": "px", "type": "quantitative", "scale": {"domain": [7.717, 11.207], "nice": false, "zero": false}, "axis": {"orient": "top", "labels": false, "ticks": false, "title": null, "domain": true}},
            "y": {"field": "py", "type": "quantitative"},
            "text": {"field": "t"}
          }
        }
      ]
    }
  ]
}
